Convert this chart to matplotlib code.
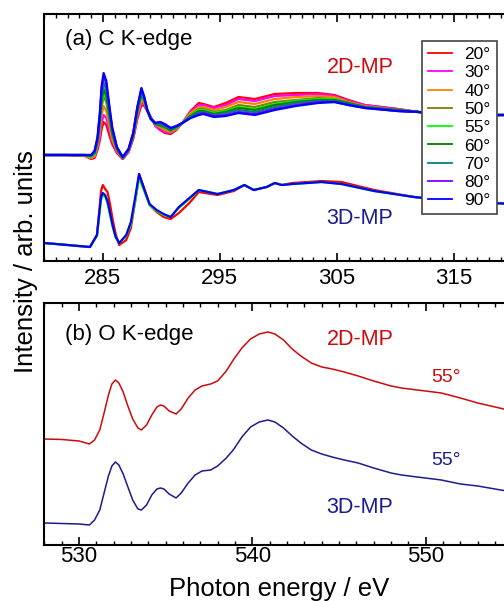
import matplotlib
matplotlib.use("Agg")
import matplotlib.pyplot as plt
from matplotlib.ticker import MultipleLocator

plt.rcParams["font.family"] = ["Liberation Sans", "DejaVu Sans"]

# C K-edge, 2D-MP, all incidence angles (intensity above pre-edge, arb. units)
E_C2 = [280, 282, 283.5, 284.0, 284.3, 284.55, 284.75, 284.9, 285.07, 285.3, 285.55, 285.8, 286.2,
        286.7, 287.2, 287.6, 287.95, 288.3, 288.55, 288.8, 289.1, 289.5, 289.9, 290.3, 290.8,
        291.3, 291.8, 292.5, 293.2, 293.6, 294.5, 295.5, 296.6, 298.0, 299.7, 301.5, 303.4,
        304.8, 306.0, 307.4, 310.2, 312.0, 315.0, 318.5, 320.0]
c2d_20 = [0, 0, -0.1, -0.4, -0.3, 0.5, 1.5, 2.6, 3.3, 3.0, 2.0, 1.1, 0.2, -0.4, 0.3, 1.6, 3.6, 5.0, 4.9, 4.4, 3.8, 2.9,
          2.5, 2.2, 2.1, 2.5, 3.2, 4.4, 5.2, 5.1, 4.8, 5.2, 5.8, 5.6, 6.1, 6.2, 6.2, 6.0, 5.5, 5.0, 4.6, 4.3, 4.1, 4.0, 4.0]
c2d_30 = [0, 0, -0.1, -0.3, -0.2, 0.7, 1.9, 3.2, 4.0, 3.7, 2.5, 1.4, 0.3, -0.4, 0.3, 1.7, 3.8, 5.3, 5.0, 4.4, 3.8, 2.9,
          2.6, 2.3, 2.2, 2.6, 3.2, 4.3, 5.0, 5.0, 4.7, 5.0, 5.6, 5.4, 5.9, 6.0, 6.1, 5.9, 5.4, 5.0, 4.6, 4.3, 4.1, 4.0, 4.0]
c2d_40 = [0, 0, -0.1, -0.3, -0.1, 0.9, 2.4, 4.0, 4.9, 4.4, 3.0, 1.6, 0.4, -0.3, 0.4, 1.8, 4.0, 5.5, 5.2, 4.4, 3.7, 3.0,
          2.8, 2.5, 2.3, 2.6, 3.2, 4.2, 4.8, 4.8, 4.5, 4.8, 5.3, 5.1, 5.6, 5.8, 5.9, 5.8, 5.3, 4.9, 4.5, 4.3, 4.1, 4.0, 4.0]
c2d_50 = [0, 0, 0.0, -0.2, 0.1, 1.2, 3.0, 4.8, 5.8, 5.3, 3.6, 2.0, 0.5, -0.3, 0.5, 1.9, 4.2, 5.9, 5.4, 4.5, 3.7, 3.1,
          2.9, 2.7, 2.4, 2.7, 3.2, 4.0, 4.6, 4.6, 4.3, 4.5, 5.0, 4.8, 5.3, 5.5, 5.7, 5.6, 5.2, 4.8, 4.5, 4.3, 4.1, 4.0, 4.0]
c2d_55 = [0, 0, 0.0, -0.2, 0.1, 1.3, 3.2, 5.2, 6.2, 5.6, 3.8, 2.1, 0.6, -0.3, 0.5, 2.0, 4.3, 6.0, 5.4, 4.5, 3.7, 3.1,
          3.0, 2.7, 2.5, 2.7, 3.2, 4.0, 4.5, 4.5, 4.2, 4.4, 4.8, 4.6, 5.1, 5.4, 5.6, 5.6, 5.2, 4.8, 4.5, 4.3, 4.1, 4.0, 4.0]
c2d_60 = [0, 0, 0.0, -0.1, 0.2, 1.4, 3.4, 5.5, 6.6, 5.9, 4.0, 2.2, 0.6, -0.3, 0.5, 2.0, 4.4, 6.1, 5.5, 4.5, 3.7, 3.1,
          3.0, 2.8, 2.5, 2.8, 3.2, 3.9, 4.4, 4.4, 4.1, 4.3, 4.7, 4.5, 5.0, 5.3, 5.5, 5.5, 5.2, 4.8, 4.5, 4.3, 4.1, 4.0, 4.0]
c2d_70 = [0, 0, 0.0, -0.1, 0.3, 1.5, 3.7, 6.0, 7.2, 6.5, 4.4, 2.5, 0.7, -0.2, 0.5, 2.1, 4.6, 6.4, 5.6, 4.5, 3.6, 3.1,
          3.1, 2.9, 2.6, 2.8, 3.2, 3.8, 4.2, 4.3, 4.0, 4.2, 4.5, 4.3, 4.8, 5.2, 5.4, 5.4, 5.1, 4.8, 4.4, 4.3, 4.1, 4.0, 4.0]
c2d_80 = [0, 0, 0.0, 0.0, 0.4, 1.7, 4.1, 6.6, 7.9, 7.1, 4.8, 2.7, 0.8, -0.2, 0.6, 2.2, 4.7, 6.6, 5.7, 4.5, 3.6, 3.2,
          3.3, 3.0, 2.7, 2.9, 3.2, 3.7, 4.1, 4.2, 3.9, 4.0, 4.3, 4.1, 4.6, 5.0, 5.3, 5.3, 5.0, 4.7, 4.4, 4.3, 4.1, 4.0, 4.0]
c2d_90 = [0, 0, 0.0, 0.0, 0.4, 1.8, 4.3, 6.9, 8.2, 7.4, 5.0, 2.8, 0.8, -0.2, 0.6, 2.2, 4.8, 6.7, 5.8, 4.5, 3.6, 3.2,
          3.3, 3.1, 2.7, 2.9, 3.2, 3.7, 4.0, 4.1, 3.8, 3.9, 4.2, 4.0, 4.5, 4.9, 5.2, 5.3, 5.0, 4.7, 4.4, 4.3, 4.1, 4.0, 4.0]

# C K-edge, 3D-MP (only 20, 55, 90 deg are distinguishable)
E_C3 = [280, 282, 283.9, 284.5, 284.7, 284.85, 285.0, 285.2, 285.4, 285.6, 285.85, 286.1, 286.4,
        287.0, 287.4, 287.8, 288.1, 288.5, 289.0, 289.6, 290.2, 290.8, 291.5, 292.4, 293.2, 294.8,
        296.2, 297.1, 297.9, 299.0, 299.7, 300.3, 301.2, 303.7, 305.4, 308.2, 311.6, 315.0, 318.4, 320.0]
c3d_20 = [0.0, -0.2, -0.4, 0.8, 3.2, 5.2, 5.8, 5.4, 5.1, 4.0, 2.3, 0.9, -0.2, 0.3, 1.5, 4.4, 6.9, 5.6, 3.8, 3.1,
          2.6, 2.4, 3.0, 4.0, 5.1, 4.8, 5.2, 5.8, 5.3, 5.6, 6.0, 5.8, 6.0, 6.2, 6.1, 5.3, 4.6, 4.2, 4.0, 3.9]
c3d_55 = [0.0, -0.2, -0.4, 0.7, 2.8, 4.3, 4.8, 4.6, 4.0, 2.9, 1.6, 0.6, 0.0, 0.7, 1.9, 4.4, 6.5, 5.3, 3.8, 3.2,
          2.8, 2.6, 3.5, 4.4, 5.3, 4.9, 5.3, 5.8, 5.3, 5.6, 6.0, 5.8, 5.9, 6.1, 5.9, 5.2, 4.6, 4.2, 4.0, 3.9]
c3d_90 = [0.0, -0.2, -0.4, 0.8, 3.0, 4.6, 5.0, 4.8, 4.2, 3.1, 1.7, 0.6, 0.0, 0.8, 2.1, 4.8, 6.9, 5.5, 3.9, 3.3,
          2.9, 2.6, 3.6, 4.5, 5.3, 4.9, 5.3, 5.8, 5.3, 5.6, 6.0, 5.8, 5.9, 6.1, 5.9, 5.2, 4.6, 4.2, 4.0, 3.9]

# O K-edge, 55 deg
E_O = [528.0, 529.0, 530.0, 530.6, 530.9, 531.2, 531.45, 531.7, 531.9, 532.1, 532.3, 532.55, 532.8,
       533.1, 533.4, 533.6, 533.9, 534.2, 534.5, 534.7, 534.9, 535.2, 535.6, 535.9, 536.3, 536.7,
       537.1, 537.6, 538.0, 538.5, 538.9, 539.4, 539.9, 540.4, 540.9, 541.3, 541.8, 542.3, 542.8,
       543.4, 544.0, 544.6, 545.3, 546.1, 547.0, 548.0, 548.6, 549.5, 550.9, 552.0, 553.0, 554.0, 555.0]
o2d_55 = [0, -0.05, -0.2, -0.5, -0.1, 0.9, 2.6, 4.4, 5.5, 5.9, 5.6, 4.7, 3.4, 2.0, 1.1, 0.9, 1.4, 2.4,
          3.2, 3.4, 3.3, 2.8, 2.5, 3.0, 4.1, 4.9, 5.3, 5.5, 5.8, 6.8, 7.9, 9.1, 10.0, 10.5, 10.7, 10.5,
          9.9, 9.0, 8.3, 7.6, 7.2, 7.0, 6.7, 6.3, 5.8, 5.3, 5.1, 4.9, 4.6, 4.1, 3.6, 3.2, 2.8]
o3d_55 = [0, -0.05, -0.1, -0.2, 0.3, 1.3, 3.0, 4.7, 5.7, 6.1, 5.8, 4.9, 3.7, 2.3, 1.4, 1.3, 1.8, 2.8,
          3.4, 3.5, 3.4, 2.9, 2.5, 3.0, 4.0, 4.8, 5.2, 5.3, 5.7, 6.5, 7.3, 8.6, 9.6, 10.1, 10.3, 10.1,
          9.5, 8.7, 8.0, 7.3, 6.9, 6.6, 6.3, 6.0, 5.5, 5.0, 4.8, 4.6, 4.3, 3.9, 3.7, 3.4, 3.1]

angles = ["20°", "30°", "40°", "50°", "55°", "60°", "70°", "80°", "90°"]
colors = ["#ff0000", "#ff00ff", "#ff8000", "#808000", "#00ff00", "#008000", "#008080", "#8000ff", "#0000ff"]
c2d = [c2d_20, c2d_30, c2d_40, c2d_50, c2d_55, c2d_60, c2d_70, c2d_80, c2d_90]

RED = "#cc0a0a"
NAVY = "#1c1c8e"


def style_axis(ax, pad):
    for s in ax.spines.values():
        s.set_linewidth(1.5)
    ax.set_yticks([])
    ax.xaxis.set_minor_locator(MultipleLocator(1))
    ax.tick_params(axis="x", which="both", direction="in", top=True, bottom=True,
                   labelsize=16, pad=pad)
    ax.tick_params(axis="x", which="major", length=5.5, width=1.2)
    ax.tick_params(axis="x", which="minor", length=3, width=1.0)


fig = plt.figure(figsize=(5.04, 6.01), dpi=100)
ax1 = fig.add_axes([0.0879, 0.5657, 0.9286, 0.411])
ax2 = fig.add_axes([0.0879, 0.0932, 0.9286, 0.4027])

# (a) C K-edge
off2d, off3d = 10.6, 1.8
for vals, c, lab in zip(c2d, colors, angles):
    ax1.plot(E_C2, [v + off2d for v in vals], color=c, lw=1.6, label=lab)
for vals, c in zip([c3d_20, c3d_55, c3d_90], ["#ff0000", "#00ff00", "#0000ff"]):
    ax1.plot(E_C3, [v + off3d for v in vals], color=c, lw=1.6)
ax1.set_xlim(280, 320)
ax1.set_ylim(0, 24.7)
ax1.set_xticks([285, 295, 305, 315])
style_axis(ax1, 5)
leg = ax1.legend(loc="upper left", bbox_to_anchor=(0.807, 0.891), fontsize=12.5,
                 handlelength=1.4, handletextpad=0.7, labelspacing=0.18, borderpad=0.35,
                 borderaxespad=0, fancybox=False, framealpha=1)
leg.get_frame().set_edgecolor("#444444")
leg.get_frame().set_linewidth(1.2)
for line in leg.get_lines():
    line.set_linewidth(1.3)
ax1.text(0.044, 0.895, "(a) C K-edge", transform=ax1.transAxes, fontsize=16, va="center")
ax1.text(0.6746, 0.785, "2D-MP", transform=ax1.transAxes, fontsize=15.5, color=RED,
         ha="center", va="center")
ax1.text(0.6746, 0.174, "3D-MP", transform=ax1.transAxes, fontsize=15.5, color=NAVY,
         ha="center", va="center")

# (b) O K-edge
ax2.plot(E_O, [v + 10.6 for v in o2d_55], color=RED, lw=1.1)
ax2.plot(E_O, [v + 2.2 for v in o3d_55], color=NAVY, lw=1.1)
ax2.set_xlim(528, 555)
ax2.set_ylim(0, 24.2)
ax2.set_xticks([530, 540, 550])
style_axis(ax2, 1)
ax2.text(0.044, 0.868, "(b) O K-edge", transform=ax2.transAxes, fontsize=16, va="center")
ax2.text(0.6746, 0.847, "2D-MP", transform=ax2.transAxes, fontsize=15.5, color=RED,
         ha="center", va="center")
ax2.text(0.859, 0.694, "55°", transform=ax2.transAxes, fontsize=14, color=RED,
         ha="center", va="center")
ax2.text(0.859, 0.351, "55°", transform=ax2.transAxes, fontsize=14, color=NAVY,
         ha="center", va="center")
ax2.text(0.6746, 0.153, "3D-MP", transform=ax2.transAxes, fontsize=15.5, color=NAVY,
         ha="center", va="center")

fig.text(0.052, 0.564, "Intensity / arb. units", rotation=90, fontsize=18.5,
         ha="center", va="center")
fig.text(0.554, 0.009, "Photon energy / eV", fontsize=18.5, ha="center", va="baseline")

fig.savefig("out.png", dpi=100)
